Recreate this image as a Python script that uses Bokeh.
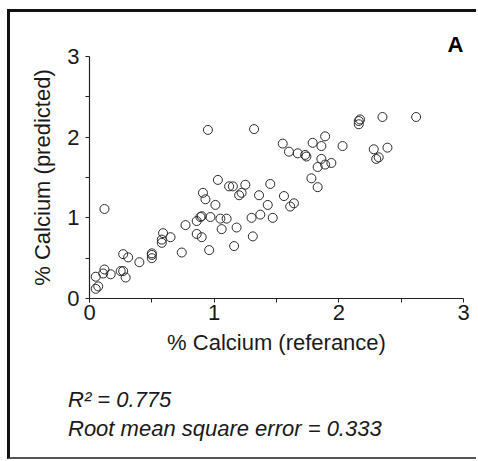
from bokeh.plotting import figure
from bokeh.layouts import column
from bokeh.models import Range1d, FixedTicker, ColumnDataSource, Div
from bokeh.embed import file_html
from bokeh.resources import INLINE

# Calcium content: reference measurement vs. model prediction (%)
calcium_reference = [
    0.05, 0.07, 0.05, 0.12, 0.12, 0.11, 0.17, 0.25, 0.27, 0.29,
    0.27, 0.31, 0.40, 0.50, 0.50, 0.50, 0.59, 0.58, 0.58, 0.65,
    0.74, 0.77, 0.86, 0.86, 0.89, 0.90, 0.90, 0.91, 0.93, 0.95,
    0.96, 0.97, 1.01, 1.03, 1.05, 1.06, 1.10, 1.12, 1.15, 1.16,
    1.18, 1.20, 1.22, 1.25, 1.30, 1.31, 1.32, 1.36, 1.37, 1.43,
    1.45, 1.47, 1.55, 1.56, 1.60, 1.61, 1.64, 1.67, 1.73, 1.74,
    1.78, 1.79, 1.83, 1.83, 1.86, 1.86, 1.89, 1.89, 1.94, 2.03,
    2.16, 2.17, 2.16, 2.28, 2.30, 2.32, 2.35, 2.39, 2.62,
]
calcium_predicted = [
    0.12, 0.15, 0.27, 1.11, 0.36, 0.31, 0.30, 0.34, 0.34, 0.26,
    0.55, 0.51, 0.45, 0.56, 0.54, 0.50, 0.81, 0.73, 0.69, 0.76,
    0.57, 0.91, 0.80, 0.96, 1.01, 1.02, 0.76, 1.31, 1.23, 2.09,
    0.60, 1.01, 1.16, 1.47, 0.99, 0.86, 0.99, 1.39, 1.39, 0.65,
    0.88, 1.28, 1.31, 1.41, 1.00, 0.77, 2.10, 1.28, 1.04, 1.16,
    1.42, 1.00, 1.92, 1.27, 1.82, 1.14, 1.18, 1.80, 1.78, 1.76,
    1.49, 1.93, 1.38, 1.63, 1.89, 1.73, 1.66, 2.01, 1.68, 1.89,
    2.20, 2.22, 2.16, 1.85, 1.73, 1.75, 2.25, 1.87, 2.25,
]
major_ticks = [0, 1, 2, 3]
minor_ticks = [0.5, 1.5, 2.5]
r_squared = "0.775"
rmse = "0.333"

FONT = "Liberation Sans"
FONT_SIZE = "22px"
TEXT_COLOR = "#1a1a1a"
PANEL_WIDTH = 466

# ---- scatter panel ----
p = figure(
    frame_width=374, frame_height=242,
    min_border_left=79, min_border_right=PANEL_WIDTH - 79 - 374,
    min_border_top=44, min_border_bottom=70,
    x_range=Range1d(0, 3), y_range=Range1d(0, 3),
    output_backend="svg", toolbar_location=None,
)
p.background_fill_color = "white"
p.border_fill_color = "white"
p.outline_line_color = None
p.xgrid.visible = False
p.ygrid.visible = False

src = ColumnDataSource(dict(x=calcium_reference, y=calcium_predicted))
p.scatter("x", "y", source=src, marker="circle", size=9,
          fill_color=None, line_color="#2a2a2a", line_width=1)

for ax in (p.xaxis[0], p.yaxis[0]):
    ax.ticker = FixedTicker(ticks=major_ticks, minor_ticks=minor_ticks)
    ax.axis_line_color = "#222222"
    ax.axis_line_width = 1.2
    ax.major_tick_line_color = "#222222"
    ax.minor_tick_line_color = "#222222"
    ax.major_tick_out = 4
    ax.major_tick_in = 0
    ax.minor_tick_out = 4
    ax.minor_tick_in = 0
    ax.major_label_text_font = FONT
    ax.major_label_text_font_size = FONT_SIZE
    ax.major_label_text_color = TEXT_COLOR
    ax.axis_label_text_font = FONT
    ax.axis_label_text_font_size = FONT_SIZE
    ax.axis_label_text_font_style = "normal"
    ax.axis_label_text_color = TEXT_COLOR

p.xaxis.axis_label = "% Calcium (referance)"
p.yaxis.axis_label = "% Calcium (predicted)"
p.xaxis.major_label_standoff = 2
p.xaxis.axis_label_standoff = 7
p.yaxis.major_label_standoff = 6
p.yaxis.axis_label_standoff = 9
p.yaxis.major_label_orientation = "horizontal"

# panel letter
p.title.text = "A"
p.title.align = "right"
p.title.text_font = FONT
p.title.text_font_size = FONT_SIZE
p.title.text_font_style = "bold"
p.title.text_color = "black"
p.title.standoff = 0

# ---- fit statistics block under the chart ----
stats_html = (
    '<div style="padding: 17px 0 0 58px; margin: 0; '
    'font-family: \'Liberation Sans\', Arial, sans-serif; font-style: italic; '
    'font-size: 22px; line-height: 29px; color: %s; white-space: nowrap;">'
    'R\u00b2 = %s<br>Root mean square error = %s</div>'
) % (TEXT_COLOR, r_squared, rmse)
stats = Div(text=stats_html, width=PANEL_WIDTH, height=89, margin=0)

# panel frame drawn around the whole figure (top, left and bottom edges)
layout = column(p, stats, spacing=0, styles={
    "margin-left": "7px",
    "margin-top": "9px",
    "border-top": "3px solid #111111",
    "border-left": "3px solid #111111",
    "border-bottom": "2px solid #555555",
})

open("out.html", "w").write(file_html(layout, INLINE))
